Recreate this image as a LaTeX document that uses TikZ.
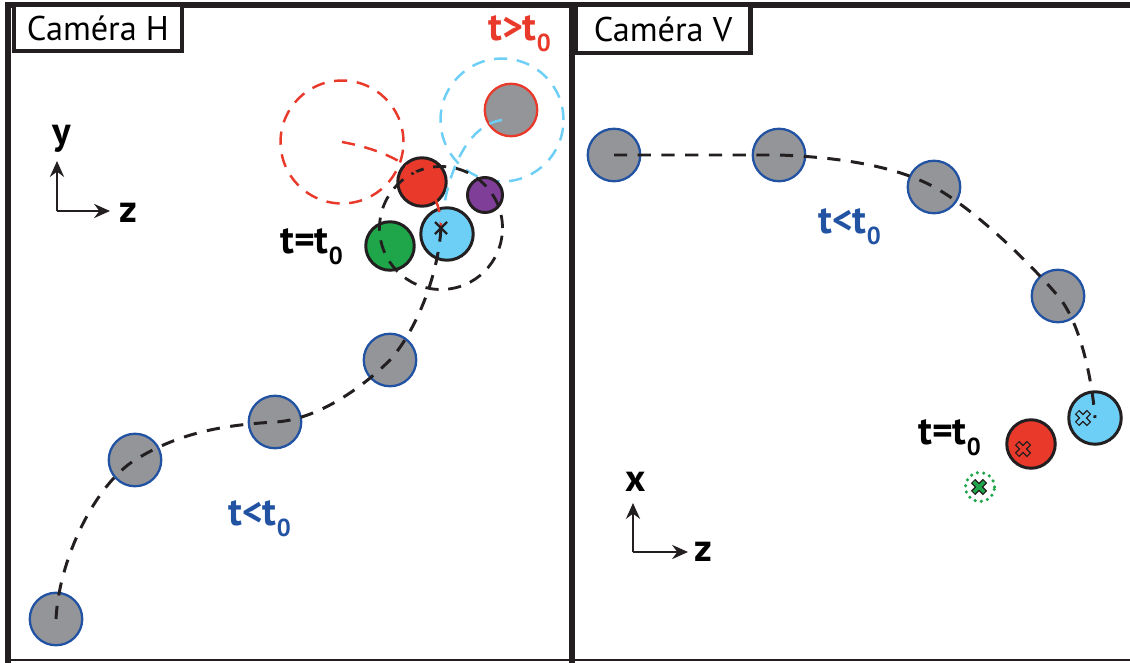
\documentclass[tikz,border=0pt]{standalone}
\usepackage{fontspec}
\setmainfont{PT Sans}
\usepackage{xcolor}
\usepackage{tikz}
\usetikzlibrary{arrows.meta}

\definecolor{gris}{HTML}{939598}
\definecolor{bleuB}{HTML}{2253A3}
\definecolor{rouge}{HTML}{E8392A}
\definecolor{ciel}{HTML}{6DCFF6}
\definecolor{vert}{HTML}{1FA64A}
\definecolor{violet}{HTML}{7F3F98}
\definecolor{noir}{HTML}{231F20}

\newcommand{\tlab}[1]{t#1t\raisebox{-0.3em}{\fontsize{14}{14}\selectfont 0}}

\begin{document}
\begin{tikzpicture}[x=0.02cm, y=-0.02cm,
    cadre/.style={noir, line width=3pt},
    titre/.style={draw=noir, line width=2.4pt, fill=white, inner sep=0pt, font=\fontsize{19.5}{19.5}\selectfont},
    bille/.style={circle, draw=bleuB, fill=gris, line width=1.3pt, minimum size=1.05cm, inner sep=0pt},
    bnoir/.style={circle, draw=noir, line width=1.7pt, inner sep=0pt},
    zone/.style={circle, line width=1.4pt, dash pattern=on 7.5pt off 5.5pt, minimum size=2.46cm, inner sep=0pt},
    traj/.style={noir, line width=1.7pt, dash pattern=on 7.5pt off 6pt},
    ztraj/.style={line width=1.4pt, dash pattern=on 7.5pt off 5.5pt},
    lab/.style={font=\fontsize{22.5}{22.5}\selectfont\bfseries, inner sep=0pt, anchor=base west},
    axe/.style={noir, line width=1.4pt, -{Stealth[length=9pt, width=8pt]}},
    axlab/.style={font=\fontsize{22}{22}\selectfont\bfseries, inner sep=0pt}]
    \useasboundingbox (0,0) rectangle (1130,663);

    % Cadre
    \draw[cadre] (8,663) -- (8,5) -- (1130,5);
    \draw[cadre] (572,5) -- (572,663);
    \draw[noir, line width=0.9pt] (8,660) -- (1130,660);
    \node[titre, minimum width=3.35cm, minimum height=0.91cm] (camH) at (98,28) {Caméra H};
    \node[titre, minimum width=3.5cm, minimum height=0.95cm] (camV) at (663,29) {Caméra V};

    % Caméra H
    \node[zone, draw=rouge] (zoneR) at (342,142) {};
    \node[zone, draw=ciel] (zoneB) at (502,120) {};
    \node[bille] (g0) at (56,619) {};
    \node[bille] (g1) at (135,460) {};
    \node[bille] (g2) at (275,422) {};
    \node[bille] (g3) at (390,360) {};
    \node[bnoir, fill=ciel, minimum size=1.05cm] (bleuH) at (447,234) {};
    \node[bnoir, fill=vert, minimum size=0.97cm] (vertH) at (390,246) {};
    \node[bnoir, fill=rouge, minimum size=0.97cm] (rougeH) at (422,182) {};
    \node[bnoir, fill=violet, minimum size=0.7cm] (violetH) at (485,195) {};
    \node[bille, draw=rouge] (futur) at (511,110) {};
    \coordinate (xH) at (441,228);
    \node[zone, draw=noir, line width=1.6pt] (zoneN) at (xH) {};

    \draw[traj] (g0.center) .. controls +(3,-60) and +(-40,25) .. (g1.center)
        .. controls +(45,-28) and +(-50,3) .. (g2.center)
        .. controls +(40,-2) and +(-30,30) .. (g3.center)
        .. controls +(25,-28) and +(-3,50) .. (xH);
    \draw[ztraj, rouge] (zoneR.center) .. controls +(55,10) and +(0,-50) .. (xH);
    \draw[ztraj, ciel] (zoneB.center) .. controls +(-35,5) and +(5,-55) .. (xH);
    \draw[noir, line width=1.3pt] (xH) +(-6,-6) -- +(6,6) (xH) +(-6,6) -- +(6,-6);

    \node[lab] (tH) at (280,253) {\tlab{=}};
    \node[lab, bleuB] (tavH) at (228,525) {\tlab{<}};
    \node[lab, rouge] (tapH) at (488,40) {\tlab{>}};

    \coordinate (oH) at (57,211);
    \draw[axe] (oH) -- ++(0,-50);
    \draw[axe] (oH) -- ++(53,0);
    \node[axlab] (labY) at (62,139) {y};
    \node[axlab] (labZH) at (128,213) {z};

    % Caméra V
    \node[bille] (r0) at (614,155) {};
    \node[bille] (r1) at (779,155) {};
    \node[bille] (r2) at (934,187) {};
    \node[bille] (r3) at (1058,296) {};
    \node[bnoir, fill=ciel, minimum size=1.05cm] (bleuV) at (1095,418) {};
    \node[bnoir, fill=rouge, minimum size=0.97cm] (rougeV) at (1031,444) {};
    \node[circle, draw=vert, line width=2pt, line cap=round, dash pattern=on 0pt off 3.6pt,
        minimum size=0.58cm, inner sep=0pt] (vertV) at (980,487) {};

    \draw[traj] (r0.center) -- (r1.center)
        .. controls +(55,2) and +(-40,-22) .. (r2.center)
        .. controls +(40,22) and +(-30,-35) .. (r3.center)
        .. controls +(22,26) and +(-3,-40) .. (bleuV.center);

    \coordinate (cxB) at (1083,418);
    \coordinate (cxR) at (1023,449);
    \coordinate (cxV) at (979,487);
    \foreach \p/\c in {cxB/ciel, cxR/rouge, cxV/vert} {
        \draw[noir, line width=3.6pt] (\p) +(-6,-6) -- +(6,6) (\p) +(-6,6) -- +(6,-6);
        \draw[\c, line width=2pt] (\p) +(-5.2,-5.2) -- +(5.2,5.2) (\p) +(-5.2,5.2) -- +(5.2,-5.2);
    }

    \node[lab, bleuB] (tavV) at (818,233) {\tlab{<}};
    \node[lab] (tV) at (918,444) {\tlab{=}};

    \coordinate (oV) at (633,552);
    \draw[axe] (oV) -- ++(0,-49);
    \draw[axe] (oV) -- ++(55,0);
    \node[axlab] (labX) at (636,482) {x};
    \node[axlab] (labZV) at (703,552) {z};
\end{tikzpicture}
\end{document}
